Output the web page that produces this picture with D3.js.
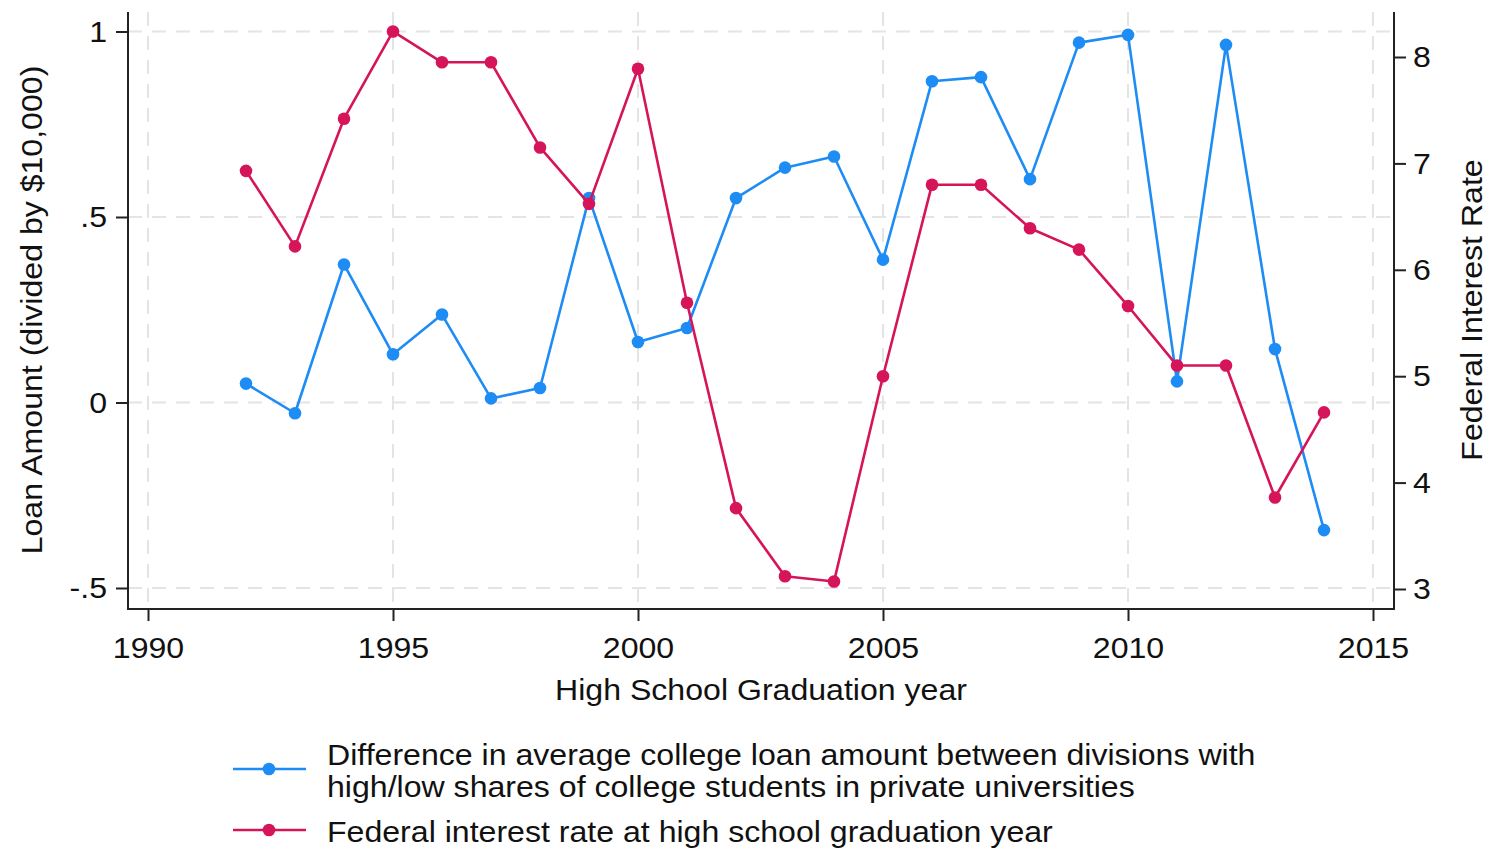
<!DOCTYPE html>
<html>
<head>
<meta charset="utf-8">
<script src="https://cdn.jsdelivr.net/npm/d3@7"></script>
<style>
  html, body { margin: 0; padding: 0; background: #ffffff; }
  svg { display: block; font-family: "Liberation Sans", Arial, sans-serif; }
</style>
</head>
<body>
<svg id="chart" width="1490" height="850"></svg>
<script>
// Graduation years
const years = [1992, 1993, 1994, 1995, 1996, 1997, 1998, 1999, 2000, 2001, 2002, 2003,
               2004, 2005, 2006, 2007, 2008, 2009, 2010, 2011, 2012, 2013, 2014];

// Difference in average loan amount (in $10,000), left axis
const loanDiff = [0.051, -0.029, 0.372, 0.130, 0.237, 0.011, 0.039, 0.551, 0.163, 0.201, 0.551, 0.633,
                  0.663, 0.385, 0.866, 0.877, 0.602, 0.970, 0.991, 0.057, 0.964, 0.144, -0.344];

// Federal interest rate (%), right axis
const fedRate = [6.93, 6.22, 7.42, 8.24, 7.95, 7.95, 7.15, 6.62, 7.89, 5.69, 3.76, 3.12,
                 3.07, 5.00, 6.80, 6.80, 6.39, 6.19, 5.66, 5.10, 5.10, 3.86, 4.66];

const xTicks = [1990, 1995, 2000, 2005, 2010, 2015];
const leftTicks = [-0.5, 0, 0.5, 1];
const leftTickLabels = ["-.5", "0", ".5", "1"];
const rightTicks = [3, 4, 5, 6, 7, 8];

const xTitle = "High School Graduation year";
const leftTitle = "Loan Amount (divided by $10,000)";
const rightTitle = "Federal Interest Rate";
const legendLoan = ["Difference in average college loan amount between divisions with",
                    "high/low shares of college students in private universities"];
const legendRate = ["Federal interest rate at high school graduation year"];

const blue = "#1e8cf5";
const red = "#d6145a";
const fontSize = 30;
const widen = 1.07;   // slightly wider glyphs

const svg = d3.select("#chart");

// Plot frame
const frame = { left: 128, right: 1394, top: 12, bottom: 609 };

const x = d3.scaleLinear().domain([1990, 2015]).range([148, 1373]);
const yL = d3.scaleLinear().domain([-0.5, 1]).range([588, 31.5]);
const yR = d3.scaleLinear().domain([3, 8]).range([589, 57]);

// Grid lines
const grid = svg.append("g")
  .attr("stroke", "#e4e4e4")
  .attr("stroke-width", 2)
  .attr("stroke-dasharray", "14,10");
grid.selectAll("line.h").data(leftTicks).join("line")
  .attr("class", "h")
  .attr("x1", frame.left).attr("x2", frame.right)
  .attr("y1", d => yL(d)).attr("y2", d => yL(d));
grid.selectAll("line.v").data(xTicks).join("line")
  .attr("class", "v")
  .attr("x1", d => x(d)).attr("x2", d => x(d))
  .attr("y1", frame.top).attr("y2", frame.bottom);

// Axes
const axisColor = "#222";
function styleAxis(g) {
  g.select(".domain").remove();
  g.selectAll(".tick line").attr("stroke", axisColor).attr("stroke-width", 2);
  g.selectAll(".tick text")
    .attr("fill", "#111")
    .style("font-size", fontSize + "px")
    .style("font-family", "'Liberation Sans', Arial, sans-serif")
    .each(function () {
      const t = d3.select(this);
      const tx = +t.attr("x") || 0;
      const ty = +t.attr("y") || 0;
      t.attr("x", 0).attr("y", 0)
       .attr("transform", `translate(${tx},${ty}) scale(${widen},1)`);
    });
}

svg.append("g")
  .attr("transform", `translate(0,${frame.bottom})`)
  .call(d3.axisBottom(x).tickValues(xTicks).tickFormat(d3.format("d")).tickSize(12).tickPadding(16))
  .call(styleAxis);

svg.append("g")
  .attr("transform", `translate(${frame.left},0)`)
  .call(d3.axisLeft(yL).tickValues(leftTicks)
        .tickFormat((d, i) => leftTickLabels[i]).tickSize(12).tickPadding(9))
  .call(styleAxis);

svg.append("g")
  .attr("transform", `translate(${frame.right},0)`)
  .call(d3.axisRight(yR).tickValues(rightTicks).tickFormat(d3.format("d")).tickSize(12).tickPadding(7))
  .call(styleAxis);

// Axis lines
const axLines = svg.append("g").attr("stroke", axisColor).attr("stroke-width", 2);
axLines.append("line").attr("x1", frame.left).attr("x2", frame.left)
  .attr("y1", frame.top).attr("y2", frame.bottom + 1);
axLines.append("line").attr("x1", frame.right).attr("x2", frame.right)
  .attr("y1", frame.top).attr("y2", frame.bottom + 1);
axLines.append("line").attr("x1", frame.left).attr("x2", frame.right)
  .attr("y1", frame.bottom).attr("y2", frame.bottom);

// Axis titles
function label(transform, anchor, text) {
  return svg.append("text")
    .attr("transform", transform + ` scale(${widen},1)`)
    .attr("text-anchor", anchor)
    .attr("fill", "#111")
    .style("font-size", fontSize + "px")
    .text(text);
}

label(`translate(761,700)`, "middle", xTitle);
label(`translate(42,310) rotate(-90)`, "middle", leftTitle);
label(`translate(1482,310) rotate(-90)`, "middle", rightTitle);

// Series
const loanData = years.map((yr, i) => ({ year: yr, value: loanDiff[i] }));
const rateData = years.map((yr, i) => ({ year: yr, value: fedRate[i] }));

function drawSeries(data, yScale, color) {
  const g = svg.append("g");
  g.append("path")
    .datum(data)
    .attr("fill", "none")
    .attr("stroke", color)
    .attr("stroke-width", 2.6)
    .attr("stroke-linejoin", "round")
    .attr("d", d3.line().x(d => x(d.year)).y(d => yScale(d.value)));
  g.selectAll("circle").data(data).join("circle")
    .attr("cx", d => x(d.year))
    .attr("cy", d => yScale(d.value))
    .attr("r", 6.3)
    .attr("fill", color);
}

drawSeries(loanData, yL, blue);
drawSeries(rateData, yR, red);

// Legend
const legend = svg.append("g");
const legendItems = [
  { color: blue, lines: legendLoan, keyY: 769, textY: [765, 797] },
  { color: red, lines: legendRate, keyY: 830, textY: [842] }
];
legendItems.forEach(item => {
  legend.append("line")
    .attr("x1", 233).attr("x2", 306)
    .attr("y1", item.keyY).attr("y2", item.keyY)
    .attr("stroke", item.color).attr("stroke-width", 2.6);
  legend.append("circle")
    .attr("cx", 269).attr("cy", item.keyY).attr("r", 6.3)
    .attr("fill", item.color);
  item.lines.forEach((t, j) => {
    label(`translate(327,${item.textY[j]})`, "start", t);
  });
});
</script>
</body>
</html>
